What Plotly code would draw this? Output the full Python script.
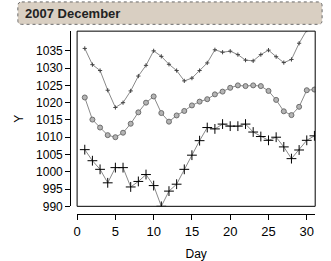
import plotly.graph_objects as go

days = list(range(1, 32))
top_series = [1035.7, 1031.0, 1029.3, 1023.6, 1018.6, 1020.0, 1023.4, 1027.7, 1030.8, 1035.0,
              1033.4, 1031.1, 1029.3, 1026.3, 1027.1, 1029.3, 1031.5, 1035.3, 1034.6, 1034.9,
              1033.9, 1032.3, 1032.1, 1033.9, 1035.2, 1033.3, 1031.6, 1032.5, 1037.2, 1041.0, 1043.0]
mid_series = [1021.5, 1015.1, 1012.8, 1010.6, 1010.0, 1011.3, 1013.9, 1017.2, 1020.0, 1021.8,
              1017.0, 1014.5, 1016.3, 1017.6, 1019.2, 1020.3, 1021.0, 1022.4, 1023.2, 1024.3,
              1025.0, 1024.8, 1025.0, 1024.8, 1023.4, 1020.8, 1017.5, 1016.4, 1018.8, 1023.6, 1023.8]
low_series = [1006.4, 1003.2, 1000.7, 996.8, 1001.2, 1001.2, 995.6, 997.2, 999.2, 996.0,
              990.0, 994.4, 996.4, 1000.7, 1004.8, 1009.0, 1012.8, 1012.4, 1013.8, 1013.2,
              1013.2, 1013.8, 1011.5, 1010.2, 1009.1, 1010.0, 1007.2, 1003.8, 1006.3, 1009.1, 1010.4]
x_ticks = [0, 5, 10, 15, 20, 25, 30]
y_ticks = [990, 995, 1000, 1005, 1010, 1015, 1020, 1025, 1030, 1035]
title_text = "2007 December"

W, H = 331, 261
def px(x): return x / W
def py(y): return 1 - y / H

fig = go.Figure()
line_style = dict(color="#8a8a8a", width=1)
fig.add_trace(go.Scatter(x=days, y=top_series, mode="lines+markers", line=line_style,
                         marker=dict(symbol="cross-thin", size=3, line=dict(color="#444", width=1)),
                         cliponaxis=True))
fig.add_trace(go.Scatter(x=days, y=mid_series, mode="lines+markers", line=line_style,
                         marker=dict(symbol="circle", size=5, color="#b4b4b4",
                                     line=dict(color="#6e6e6e", width=1)),
                         cliponaxis=True))
fig.add_trace(go.Scatter(x=days, y=low_series, mode="lines+markers", line=line_style,
                         marker=dict(symbol="cross-thin", size=7, line=dict(color="#000", width=1)),
                         cliponaxis=True))

x0d, x1d = px(74), px(315)
y0d, y1d = py(212), py(32)

# rounded title box
bx0, bx1, by0, by1, r = 14, 322, 2, 25, 4
path = (f"M {px(bx0 + r)} {py(by0)} L {px(bx1 - r)} {py(by0)} "
        f"Q {px(bx1)} {py(by0)} {px(bx1)} {py(by0 + r)} L {px(bx1)} {py(by1 - r)} "
        f"Q {px(bx1)} {py(by1)} {px(bx1 - r)} {py(by1)} L {px(bx0 + r)} {py(by1)} "
        f"Q {px(bx0)} {py(by1)} {px(bx0)} {py(by1 - r)} L {px(bx0)} {py(by0 + r)} "
        f"Q {px(bx0)} {py(by0)} {px(bx0 + r)} {py(by0)} Z")

fig.update_layout(
    width=W, height=H,
    margin=dict(l=0, r=0, t=0, b=0),
    paper_bgcolor="white", plot_bgcolor="white",
    showlegend=False,
    font=dict(family="Liberation Sans, Arial, sans-serif", color="#000"),
    xaxis=dict(domain=[x0d, x1d], range=[0, 31.1], anchor="free", position=py(220),
               tickmode="array", tickvals=x_ticks, ticks="outside", ticklen=5, tickcolor="#000",
               showline=True, linecolor="#000", linewidth=1, showgrid=False, zeroline=False,
               tickfont=dict(size=13), title=dict(text="Day", font=dict(size=12), standoff=12)),
    yaxis=dict(domain=[y0d, y1d], range=[990, 1040.7], anchor="free", position=px(67),
               tickmode="array", tickvals=y_ticks, ticks="outside", ticklen=5, tickcolor="#000",
               showline=True, linecolor="#000", linewidth=1, showgrid=False, zeroline=False,
               tickfont=dict(size=12), title=dict(text="Y", font=dict(size=12), standoff=8)),
    shapes=[
        dict(type="rect", xref="paper", yref="paper", x0=x0d, x1=x1d, y0=y0d, y1=y1d,
             line=dict(color="#000", width=1), fillcolor="rgba(0,0,0,0)", layer="above"),
        dict(type="path", xref="paper", yref="paper", path=path,
             fillcolor="#d9cfc2", line=dict(color="#6a6a6a", width=1, dash="dot")),
    ],
    annotations=[
        dict(text=f"<b>{title_text}</b>", xref="paper", yref="paper", x=px(19), y=py(13.5),
             xanchor="left", yanchor="middle", showarrow=False,
             font=dict(size=13, color="#222"))
    ],
)

fig.write_html("out.html")
